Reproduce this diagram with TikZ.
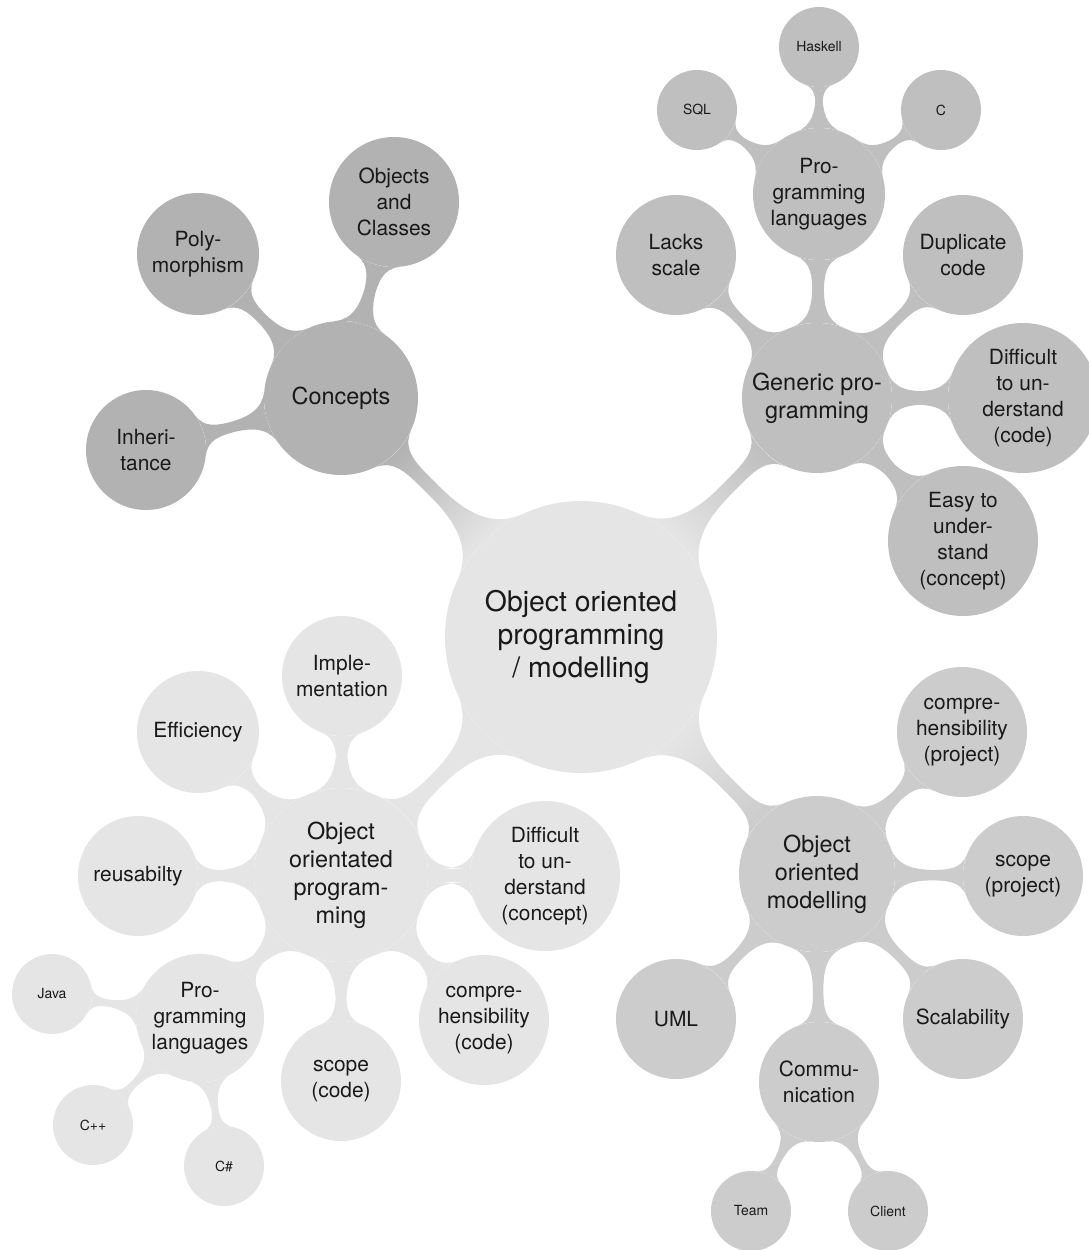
\documentclass[tikz,border=0pt]{standalone}
\usepackage{fontspec}
\setmainfont{TeX Gyre Heros}
\usetikzlibrary{mindmap}
\definecolor{rootc}{gray}{0.898}
\definecolor{conc}{gray}{0.698}
\definecolor{genc}{gray}{0.749}
\definecolor{oopc}{gray}{0.898}
\definecolor{modc}{gray}{0.800}
\tikzset{
  cnode/.style={circle, inner sep=0pt, align=center, text=black!90},
  lroot/.style={cnode, font=\fontsize{28.5}{33}\selectfont},
  lone/.style={cnode, font=\fontsize{23.5}{28}\selectfont},
  ltwo/.style={cnode, font=\fontsize{21}{26}\selectfont},
  lthree/.style={cnode, font=\fontsize{14}{17}\selectfont},
}
\begin{document}
\begin{tikzpicture}[x=1bp, y=-1bp]
\useasboundingbox (0,0) rectangle (1089,1250);
% root
\node[lroot, fill=rootc, minimum size=272bp] (root) at (581,637) {Object oriented\\programming\\/ modelling};
% Concepts branch
\node[lone, fill=conc, minimum size=154bp] (con) at (341,398) {Concepts};
\node[ltwo, fill=conc, minimum size=122bp] (poly) at (198,254) {Poly-\\morphism};
\node[ltwo, fill=conc, minimum size=130bp] (obj) at (394,202) {Objects\\and\\Classes};
\node[ltwo, fill=conc, minimum size=120bp] (inh) at (146,450) {Inheri-\\tance};
% Generic programming branch
\node[lone, fill=genc, minimum size=150bp] (gen) at (817,398) {Generic pro-\\gramming};
\node[ltwo, fill=genc, minimum size=132bp] (gpl) at (819,194) {Pro-\\gramming\\languages};
\node[lthree, fill=genc, minimum size=80bp] (hask) at (819,47) {Haskell};
\node[lthree, fill=genc, minimum size=80bp] (sql) at (697,110) {SQL};
\node[lthree, fill=genc, minimum size=80bp] (cc) at (941,110) {C};
\node[ltwo, fill=genc, minimum size=120bp] (lack) at (676,255) {Lacks\\scale};
\node[ltwo, fill=genc, minimum size=120bp] (dup) at (963,255) {Duplicate\\code};
\node[ltwo, fill=genc, minimum size=150bp] (diffc) at (1023,398) {Difficult\\to un-\\derstand\\(code)};
\node[ltwo, fill=genc, minimum size=150bp] (easy) at (963,541) {Easy to\\under-\\stand\\(concept)};
% OOP branch
\node[lone, fill=oopc, minimum size=174bp] (oop) at (341,875) {Object\\orientated\\program-\\ming};
\node[ltwo, fill=oopc, minimum size=120bp] (impl) at (342,676) {Imple-\\mentation};
\node[ltwo, fill=oopc, minimum size=122bp] (eff) at (198,732) {Efficiency};
\node[ltwo, fill=oopc, minimum size=120bp] (reu) at (138,876) {reusabilty};
\node[ltwo, fill=oopc, minimum size=150bp] (diffp) at (545,876) {Difficult\\to un-\\derstand\\(concept)};
\node[ltwo, fill=oopc, minimum size=128bp] (opl) at (200,1018) {Pro-\\gramming\\languages};
\node[lthree, fill=oopc, minimum size=80bp] (java) at (52,994) {Java};
\node[lthree, fill=oopc, minimum size=80bp] (cpp) at (93,1125) {C++};
\node[lthree, fill=oopc, minimum size=80bp] (cs) at (224,1166) {C\#};
\node[ltwo, fill=oopc, minimum size=120bp] (scc) at (341,1081) {scope\\(code)};
\node[ltwo, fill=oopc, minimum size=130bp] (comc) at (484,1020) {compre-\\hensibility\\(code)};
% Modelling branch
\node[lone, fill=modc, minimum size=156bp] (mod) at (817,874) {Object\\oriented\\modelling};
\node[ltwo, fill=modc, minimum size=130bp] (comp) at (962,732) {compre-\\hensibility\\(project)};
\node[ltwo, fill=modc, minimum size=120bp] (scp) at (1023,876) {scope\\(project)};
\node[ltwo, fill=modc, minimum size=120bp] (scal) at (963,1019) {Scalability};
\node[ltwo, fill=modc, minimum size=120bp] (uml) at (676,1019) {UML};
\node[ltwo, fill=modc, minimum size=120bp] (comm) at (819,1082) {Commu-\\nication};
\node[lthree, fill=modc, minimum size=80bp] (team) at (751,1211) {Team};
\node[lthree, fill=modc, minimum size=80bp] (cli) at (888,1211) {Client};
% connections
\path (root) to[circle connection bar switch color=from (rootc) to (conc)] (con);
\path (root) to[circle connection bar switch color=from (rootc) to (genc)] (gen);
\path (root) to[circle connection bar switch color=from (rootc) to (oopc)] (oop);
\path (root) to[circle connection bar switch color=from (rootc) to (modc)] (mod);
\foreach \a in {poly,obj,inh}
  \path (con) to[circle connection bar switch color=from (conc) to (conc)] (\a);
\foreach \a in {gpl,lack,dup,diffc,easy}
  \path (gen) to[circle connection bar switch color=from (genc) to (genc)] (\a);
\foreach \a in {hask,sql,cc}
  \path (gpl) to[circle connection bar switch color=from (genc) to (genc)] (\a);
\foreach \a in {impl,eff,reu,diffp,opl,scc,comc}
  \path (oop) to[circle connection bar switch color=from (oopc) to (oopc)] (\a);
\foreach \a in {java,cpp,cs}
  \path (opl) to[circle connection bar switch color=from (oopc) to (oopc)] (\a);
\foreach \a in {comp,scp,scal,uml,comm}
  \path (mod) to[circle connection bar switch color=from (modc) to (modc)] (\a);
\foreach \a in {team,cli}
  \path (comm) to[circle connection bar switch color=from (modc) to (modc)] (\a);
\end{tikzpicture}
\end{document}
